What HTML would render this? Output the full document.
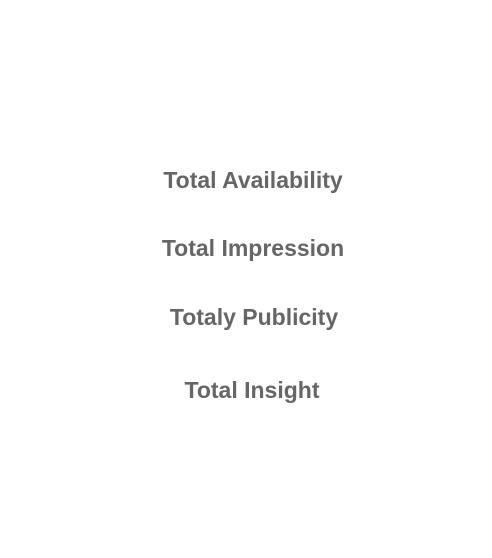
<!DOCTYPE html>
<html>
<head>
<meta charset="utf-8">
<style>
html,body{margin:0;padding:0;background:#fff;}
body{width:492px;height:558px;position:relative;overflow:hidden;}
.t{position:absolute;left:0;width:506px;text-align:center;font-family:"Liberation Sans",Arial,sans-serif;font-weight:bold;font-size:23px;color:#666;line-height:24px;white-space:nowrap;}
</style>
</head>
<body>
<div class="t" style="top:168px;">Total Availability</div>
<div class="t" style="top:236px;">Total Impression</div>
<div class="t" style="top:305px;left:1px;">Totaly Publicity</div>
<div class="t" style="top:378px;left:-1px;">Total Insight</div>
</body>
</html>
